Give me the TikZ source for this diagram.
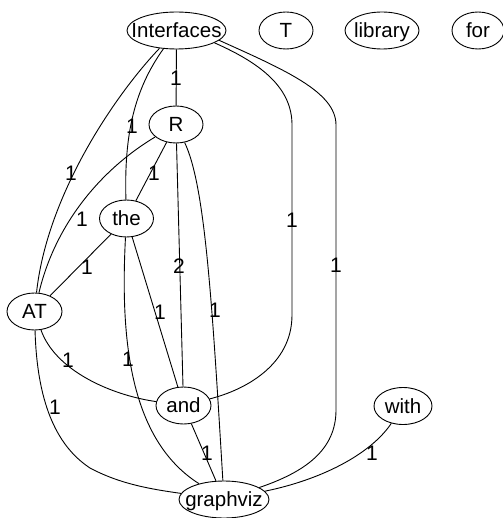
\documentclass[tikz,border=0pt]{standalone}
\usepackage{fontspec}
\setmainfont{Liberation Sans}
\usetikzlibrary{shapes.geometric}

\begin{document}
\begin{tikzpicture}[x=1pt, y=-1pt, line width=0.9pt,
    word/.style={draw, ellipse, inner sep=0pt, minimum height=37pt, text height=14.7pt, text depth=0pt, font=\fontsize{20.5}{24}\selectfont},
    lbl/.style={inner sep=0pt, font=\fontsize{21}{24}\selectfont}]

    \useasboundingbox (0,0) rectangle (502,518);

    %% Words
    % Top row
    \node[word, minimum width=99pt] (Interfaces) at (176.5,30.5) {\makebox[0pt]{Interfaces}};
    \node[word, minimum width=54pt] (T) at (286,30.5) {\makebox[0pt]{T}};
    \node[word, minimum width=74pt] (library) at (382,30.5) {\makebox[0pt]{library}};
    \node[word, minimum width=52pt] (for) at (478,30.5) {\makebox[0pt]{for}};

    % Middle
    \node[word, minimum width=54pt] (R) at (176,124.5) {\makebox[0pt]{R}};
    \node[word, minimum width=54pt] (the) at (126.5,218.5) {\makebox[0pt]{the}};
    \node[word, minimum width=55pt] (AT) at (34.5,311.5) {\makebox[0pt]{AT}};
    \node[word, minimum width=55pt] (and) at (183.5,405.5) {\makebox[0pt]{and}};
    \node[word, minimum width=58pt] (with) at (403,406) {\makebox[0pt]{with}};

    % Bottom
    \node[word, minimum width=90pt] (graphviz) at (224,499.5) {\makebox[0pt]{graphviz}};

    %% Edges
    % From Interfaces
    \draw (Interfaces) -- (R);
    \draw (Interfaces) .. controls (134,90) and (124,135) .. (the);
    \draw (Interfaces) .. controls (115,95) and (47,195) .. (AT);
    \draw (Interfaces.-18) .. controls (265,65) and (292,90) .. (292,125) -- (292,315)
        .. controls (292,365) and (245,390) .. (and);
    \draw (Interfaces.-13) .. controls (285,70) and (336,92) .. (336,125) -- (336,410)
        .. controls (336,450) and (305,472) .. (graphviz);

    % From R
    \draw (R) -- (the);
    \draw (R) .. controls (100,170) and (55,225) .. (AT);
    \draw (R) -- (and);
    \draw (R) .. controls (205,185) and (212,300) .. (graphviz);

    % From the
    \draw (the) -- (AT);
    \draw (the) -- (and);
    \draw (the) .. controls (120,340) and (130,440) .. (graphviz);

    % From AT
    \draw (AT) .. controls (55,370) and (110,395) .. (and);
    \draw (AT) .. controls (37,400) and (55,445) .. (90,468)
        .. controls (120,484) and (150,489) .. (graphviz);

    % Into graphviz
    \draw (and) -- (graphviz);
    \draw (with) .. controls (370,455) and (320,480) .. (graphviz);

    %% Weights
    \node[lbl] (wIR) at (176,78) {1};
    \node[lbl] (wIthe) at (132,126) {1};
    \node[lbl] (wIAT) at (71,173) {1};
    \node[lbl] (wRthe) at (154,173) {1};
    \node[lbl] (wRAT) at (82,219) {1};
    \node[lbl] (wIand) at (292,220) {1};
    \node[lbl] (wIgv) at (336,265) {1};
    \node[lbl] (wRand) at (179,266) {2};
    \node[lbl] (wtheAT) at (87,267) {1};
    \node[lbl] (wtheand) at (160,312) {1};
    \node[lbl] (wRgv) at (215,310) {1};
    \node[lbl] (wATand) at (68,360) {1};
    \node[lbl] (wthegv) at (128,359) {1};
    \node[lbl] (wATgv) at (55,407) {1};
    \node[lbl] (wandgv) at (207,453) {1};
    \node[lbl] (wwithgv) at (372,453) {1};

\end{tikzpicture}
\end{document}
